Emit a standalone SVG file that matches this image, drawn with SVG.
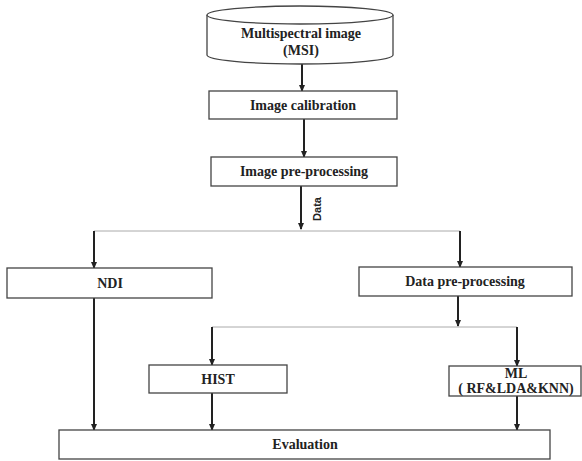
<svg xmlns="http://www.w3.org/2000/svg" width="582" height="461" viewBox="0 0 582 461">
<defs>
<marker id="ah" markerWidth="8" markerHeight="8" refX="6" refY="4" orient="auto" markerUnits="userSpaceOnUse">
<path d="M0,1 L7,4 L0,7 Z" fill="#222"/>
</marker>
<style>
.box{fill:#fff;stroke:#444;stroke-width:1.3}
.t{font-family:"Liberation Serif",serif;font-weight:bold;font-size:14px;fill:#222;text-anchor:middle}
.c{fill:none;stroke:#222;stroke-width:2}
.h{fill:none;stroke:#aaa;stroke-width:1}
</style>
</defs>
<rect width="582" height="461" fill="#fff"/>
<g id="connectors">
<line class="c" x1="302" y1="63" x2="302" y2="91" marker-end="url(#ah)"/>
<line class="c" x1="304" y1="119" x2="304" y2="157" marker-end="url(#ah)"/>
<line class="c" x1="301" y1="186" x2="301" y2="229" marker-end="url(#ah)"/>
<text x="0" y="0" transform="translate(321,209) rotate(-90)" style="font-family:'Liberation Sans',sans-serif;font-weight:bold;font-size:11px;fill:#222;text-anchor:middle">Data</text>
<line class="h" x1="94" y1="231" x2="460" y2="231"/>
<line class="c" x1="94" y1="231" x2="94" y2="268" marker-end="url(#ah)"/>
<line class="c" x1="460" y1="231" x2="460" y2="267" marker-end="url(#ah)"/>
<line class="c" x1="458" y1="296" x2="458" y2="326" marker-end="url(#ah)"/>
<line class="h" x1="212" y1="327" x2="517" y2="327"/>
<line class="c" x1="212" y1="327" x2="212" y2="365" marker-end="url(#ah)"/>
<line class="c" x1="517" y1="327" x2="517" y2="366" marker-end="url(#ah)"/>
<line class="c" x1="94" y1="298" x2="94" y2="430" marker-end="url(#ah)"/>
<line class="c" x1="212" y1="393" x2="212" y2="430" marker-end="url(#ah)"/>
<line class="c" x1="517" y1="396" x2="517" y2="430" marker-end="url(#ah)"/>
</g>
<g id="msi">
<path class="box" d="M207,15 L207,55 A93,9 0 0 0 393,55 L393,15"/>
<ellipse class="box" cx="300" cy="15" rx="93" ry="9"/>
<text class="t" x="301" y="38">Multispectral image</text>
<text class="t" x="301" y="55">(MSI)</text>
</g>
<g id="calibration">
<rect class="box" x="209" y="91" width="188" height="28"/>
<text class="t" x="303" y="110">Image calibration</text>
</g>
<g id="preprocessing">
<rect class="box" x="211" y="157" width="186" height="29"/>
<text class="t" x="304" y="176">Image pre-processing</text>
</g>
<g id="ndi">
<rect class="box" x="7" y="268" width="205" height="30"/>
<text class="t" x="110" y="288">NDI</text>
</g>
<g id="datapre">
<rect class="box" x="359" y="267" width="213" height="29"/>
<text class="t" x="465" y="286">Data pre-processing</text>
</g>
<g id="hist">
<rect class="box" x="149" y="365" width="138" height="28"/>
<text class="t" x="218" y="384">HIST</text>
</g>
<g id="ml">
<rect class="box" x="449" y="366" width="132" height="30"/>
<text class="t" x="516" y="378">ML</text>
<text class="t" x="516" y="393">( RF&amp;LDA&amp;KNN)</text>
</g>
<g id="evaluation">
<rect class="box" x="59" y="430" width="491" height="29"/>
<text class="t" x="305" y="449">Evaluation</text>
</g>
</svg>
